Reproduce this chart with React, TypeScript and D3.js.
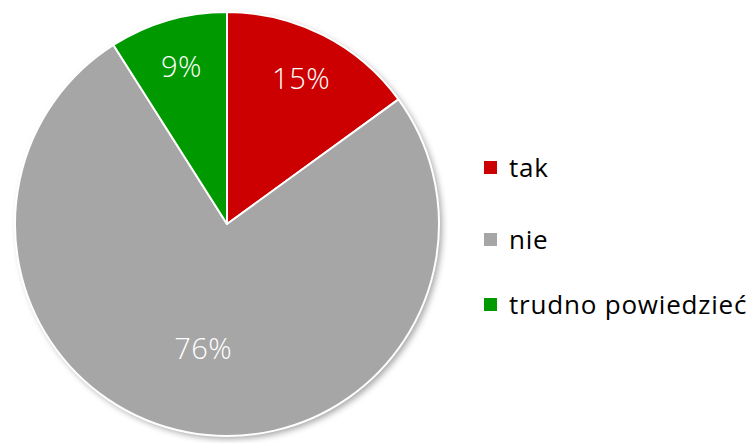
import React from 'react';
import * as d3 from 'd3';

const categories = ['tak', 'nie', 'trudno powiedzieć'];
const values = [15, 76, 9];
const colors = ['#cc0000', '#a6a6a6', '#009900'];

const W = 752;
const H = 443;
const cx = 227;
const cy = 224;
const r = 212;

const App = () => {
	const pie = d3.pie<number>().sort(null).value(d => d);
	const arcs = pie(values);
	const arc = d3.arc<d3.PieArcDatum<number>>().innerRadius(0).outerRadius(r);

	// Excel puts the big slice label closer to the middle
	const labelPos = (a: d3.PieArcDatum<number>, i: number) => {
		const k = values[i] > 50 ? 0.6 : 0.77;
		const lr = r * k;
		return d3.arc<d3.PieArcDatum<number>>().innerRadius(lr).outerRadius(lr).centroid(a);
	};

	return (
		<svg width={W} height={H} style={{ position: 'absolute', left: 0, top: 0, fontFamily: '"Open Sans", sans-serif' }}>
			<defs>
				<filter id="shadow" x="-20%" y="-20%" width="140%" height="140%">
					<feDropShadow dx="3" dy="3" stdDeviation="3" floodColor="#000" floodOpacity="0.35" />
				</filter>
			</defs>
			<g transform={`translate(${cx},${cy})`}>
				<circle r={r} fill="#a6a6a6" filter="url(#shadow)" />
				{arcs.map((a, i) => (
					<path key={i} d={arc(a) || ''} fill={colors[i]} stroke="#fff" strokeWidth={2} strokeLinejoin="round" />
				))}
				{arcs.map((a, i) => {
					const [x, y] = labelPos(a, i);
					return (
						<text key={i} x={x} y={y} dy="0.35em" textAnchor="middle" fill="#fff" fontSize={29} fontWeight={300} letterSpacing={0.5}>
							{values[i]}%
						</text>
					);
				})}
			</g>
			<g>
				{categories.map((c, i) => {
					const ys = [168, 240, 305];
					return (
						<g key={c} transform={`translate(484,${ys[i]})`}>
							<rect x={0} y={-7} width={13} height={13} fill={colors[i]} />
							<text x={25} y={0} dy="0.35em" fontSize={26} letterSpacing={0.8} fill="#000">{c}</text>
						</g>
					);
				})}
			</g>
		</svg>
	);
};

export default App;
